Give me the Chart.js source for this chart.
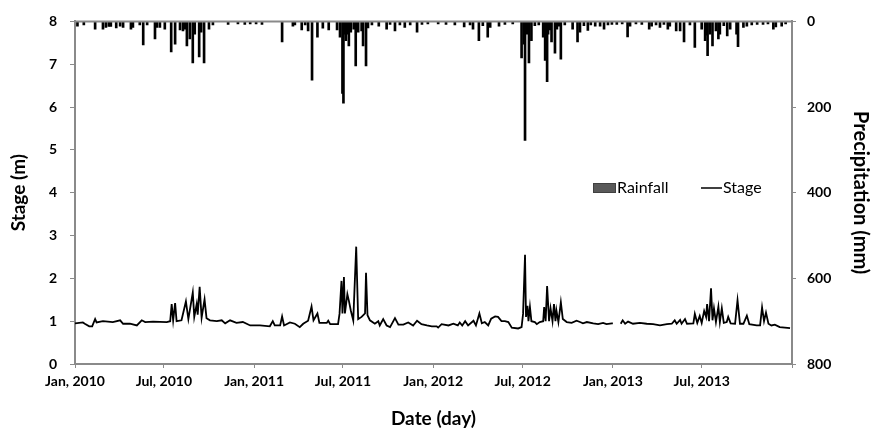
<!DOCTYPE html>
<html>
<head>
    <title>Stage and Rainfall 2010-2013</title>
    <script src="https://cdn.jsdelivr.net/npm/chart.js"></script>
    <style>
        html, body {
            margin: 0;
            padding: 0;
            background: #fff;
        }
        #wrap {
            width: 871px;
            height: 432px;
        }
    </style>
</head>
<body>
    <div id="wrap"><canvas id="stageChart" width="871" height="432"></canvas></div>

    <script>
        // Day numbers are counted from 1 Jan 2010
        const tickDays = [0, 181, 365, 546, 730, 912, 1096, 1277, 1461];
        const tickLabels = ['Jan, 2010', 'Jul, 2010', 'Jan, 2011', 'Jul, 2011', 'Jan, 2012', 'Jul, 2012', 'Jan, 2013', 'Jul, 2013', ''];

        // Daily rainfall (mm), only the rain days
        const rainDay = [
            5, 18, 41, 57, 63, 69, 73, 84, 92, 98, 114, 118, 132, 139, 147, 163, 167, 173, 183, 196,
            204, 214, 220, 224, 228, 234, 240, 244, 253, 257, 263, 273, 281, 312, 332, 346, 357,
            369, 381, 422, 444, 448, 462, 469, 475, 483, 494, 505, 517, 534, 540, 545, 547, 550,
            552, 554, 558, 562, 568, 572, 577, 584, 587, 593, 597, 605, 619, 635, 642, 652, 662,
            672, 683, 697, 707, 719,
            740, 756, 774, 793, 805, 811, 823, 831, 841, 846, 864, 876, 892, 910, 915, 917, 921,
            925, 930, 937, 945, 954, 958, 962, 964, 968, 971, 978, 982, 986, 990, 998, 1014, 1024,
            1029, 1037, 1045, 1051, 1060, 1070, 1078, 1086, 1094,
            1104, 1115, 1126, 1131, 1143, 1155, 1170, 1175, 1184, 1192, 1200, 1208, 1212, 1225,
            1233, 1241, 1253, 1263, 1277, 1284, 1287, 1289, 1294, 1299, 1306, 1311, 1314, 1322,
            1329, 1335, 1348, 1351, 1362, 1369, 1379, 1390, 1402, 1412, 1423, 1428, 1440, 1448
        ];
        const rainMm = [
            11, 8, 18, 18, 14, 12, 12, 15, 11, 14, 18, 14, 8, 55, 8, 41, 14, 14, 18, 71,
            53, 20, 22, 18, 57, 41, 97, 30, 83, 25, 97, 18, 8, 7, 6, 7, 6,
            6, 7, 48, 11, 8, 20, 8, 22, 137, 37, 16, 20, 20, 37, 168, 191, 30,
            45, 30, 57, 25, 18, 104, 25, 22, 57, 104, 15, 8, 11, 18, 7, 22, 8,
            14, 8, 25, 7, 6,
            6, 7, 8, 13, 8, 18, 45, 10, 37, 14, 11, 7, 6, 85, 53, 278, 30,
            97, 45, 10, 8, 37, 91, 141, 30, 20, 48, 74, 18, 11, 88, 8, 18, 48,
            25, 10, 21, 8, 11, 11, 18, 8, 7,
            7, 6, 36, 11, 6, 7, 18, 11, 8, 14, 7, 18, 11, 22,
            22, 48, 8, 61, 18, 45, 32, 80, 30, 57, 22, 41, 30, 10,
            34, 18, 30, 59, 14, 11, 8, 7, 7, 6, 18, 13, 11, 6
        ];

        // River stage (m); null = no record
        const stageDay = [
            0, 16, 20, 29, 35, 41, 44, 57, 77, 92, 98, 112, 126, 136, 143, 159, 187, 194, 197, 200,
            204, 207, 217, 226, 231, 240, 243, 248, 250, 254, 258, 264, 268, 275, 289, 299, 306, 316,
            329, 342, 357, 377, 397, 403, 407, 418, 422, 426, 438, 448, 458, 465, 475, 482, 486, 494,
            498, 513, 516, 520, 536, 539, 543, 545, 548, 550, 555, 558, 562, 567, 573, 577, 584, 591,
            593, 596, 601, 611, 618, 621, 628, 635, 642, 652, 659, 669, 679, 689, 697, 706, 717, 727,
            737, 740, 747, 761, 771, 780, 784, 789, 795, 801, 812, 817, 824, 829, 835, 842, 848, 856,
            862, 869, 876, 883, 890, 903, 910, 913, 917, 919, 922, 924, 927, 930, 937, 941, 947, 954,
            956, 959, 962, 966, 969, 973, 976, 979, 981, 985, 990, 994, 1002, 1012, 1022, 1029, 1035,
            1043, 1056, 1066, 1076, 1083, 1094, 1096, 1100, 1112, 1116, 1121, 1127, 1137, 1151, 1165,
            1178, 1192, 1206, 1216, 1222, 1226, 1233, 1236, 1243, 1247, 1260, 1263, 1268, 1273, 1277,
            1282, 1286, 1288, 1292, 1296, 1299, 1302, 1306, 1311, 1314, 1318, 1322, 1328, 1331, 1336,
            1345, 1350, 1355, 1362, 1369, 1374, 1389, 1396, 1400, 1404, 1408, 1413, 1419, 1426, 1436,
            1457
        ];
        const stageM = [
            0.95, 0.97, 0.94, 0.88, 0.88, 1.05, 0.97, 1.00, 0.98, 1.02, 0.94, 0.94, 0.90, 1.02, 0.98, 0.99, 0.98, 1.00, 1.40, 1.02,
            1.42, 1.00, 1.02, 1.46, 1.05, 1.67, 1.10, 1.40, 1.15, 1.80, 1.08, 1.51, 1.07, 1.02, 1.00, 1.02, 0.95, 1.02,
            0.96, 0.98, 0.90, 0.90, 0.88, 1.00, 0.90, 0.90, 1.11, 0.90, 0.97, 0.94, 0.86, 0.94, 1.01, 1.34, 1.02, 1.18,
            0.96, 0.96, 1.01, 0.93, 0.93, 1.17, 1.94, 1.18, 2.03, 1.18, 1.63, 1.48, 1.25, 1.02, 2.74, 1.05, 1.10, 1.18,
            2.13, 1.14, 1.02, 0.94, 1.00, 0.90, 1.05, 0.90, 0.86, 1.07, 0.92, 0.92, 0.97, 0.90, 1.01, 0.93, 0.90, 0.88,
            0.88, 0.85, 0.93, 0.90, 0.94, 0.90, 0.97, 0.90, 1.00, 0.90, 1.01, 0.90, 1.18, 0.95, 0.98, 0.90, 1.06, 1.11,
            1.10, 1.00, 1.00, 0.98, 0.85, 0.83, 0.86, 1.17, 2.55, 1.10, 1.36, 1.00, 1.33, 1.00, 0.98, 0.93, 0.98, 1.00,
            1.33, 1.00, 1.82, 1.00, 1.30, 1.00, 1.40, 1.00, 1.25, 0.98, 1.44, 1.05, 0.98, 0.96, 1.01, 0.98, 0.95,
            0.98, 0.95, 0.93, 0.96, 0.93, 0.95, 0.95, null, 0.94, 1.02, 0.94, 0.99, 0.94, 0.96, 0.94,
            0.93, 0.90, 0.93, 0.94, 1.02, 0.94, 1.03, 0.94, 1.05, 0.94, 0.95, 1.17, 0.96, 1.12, 0.96,
            1.24, 1.10, 1.40, 1.00, 1.77, 1.02, 1.30, 0.98, 1.34, 0.98, 1.30, 0.96, 0.98, 1.10, 0.95,
            0.94, 1.49, 0.94, 0.94, 1.13, 0.93, 0.90, 0.90, 1.32, 1.00, 1.20, 0.94, 0.90, 0.92, 0.86,
            0.84
        ];

        const axisGrey = '#8a8a8a';
        const tickFont = { family: 'Lato', size: 14, weight: 'bold' };
        const titleFont = { family: 'Lato', size: 19, weight: 'bold' };

        // closes the frame along the top edge
        const topBorder = {
            id: 'topBorder',
            afterDraw(chart) {
                const { ctx, chartArea } = chart;
                ctx.save();
                ctx.strokeStyle = axisGrey;
                ctx.lineWidth = 2;
                ctx.beginPath();
                ctx.moveTo(chartArea.left, chartArea.top);
                ctx.lineTo(chartArea.right, chartArea.top);
                ctx.stroke();
                ctx.restore();
            }
        };

        // legend sits inside the plot, right of centre
        const innerLegend = {
            id: 'innerLegend',
            afterDraw(chart) {
                const { ctx, chartArea } = chart;
                const x = chartArea.left + 518;
                const y = 188;
                ctx.save();
                ctx.fillStyle = '#595959';
                ctx.strokeStyle = '#404040';
                ctx.lineWidth = 1;
                ctx.fillRect(x, y - 5, 23, 10);
                ctx.strokeRect(x + 0.5, y - 4.5, 22, 9);
                ctx.font = '16px Lato';
                ctx.fillStyle = '#000';
                ctx.textBaseline = 'middle';
                ctx.fillText('Rainfall', x + 24, y);
                ctx.strokeStyle = '#000';
                ctx.lineWidth = 1.5;
                ctx.beginPath();
                ctx.moveTo(x + 108, y);
                ctx.lineTo(x + 129, y);
                ctx.stroke();
                ctx.fillText('Stage', x + 130, y);
                ctx.restore();
            }
        };

        const ctx = document.getElementById('stageChart').getContext('2d');

        const stageChart = new Chart(ctx, {
            type: 'bar',
            data: {
                datasets: [
                    {
                        type: 'line',
                        label: 'Stage',
                        data: stageDay.map((d, i) => ({ x: d, y: stageM[i] })),
                        borderColor: '#000',
                        borderWidth: 1.8,
                        pointRadius: 0,
                        tension: 0,
                        spanGaps: false,
                        xAxisID: 'x',
                        yAxisID: 'y'
                    },
                    {
                        type: 'bar',
                        label: 'Rainfall',
                        data: rainDay.map((d, i) => ({ x: d, y: rainMm[i] })),
                        backgroundColor: '#000',
                        borderWidth: 0,
                        barThickness: 2,
                        xAxisID: 'x',
                        yAxisID: 'y2'
                    }
                ]
            },
            options: {
                responsive: false,
                animation: false,
                layout: { padding: { top: 17, left: 0, right: 0, bottom: 0 } },
                plugins: {
                    legend: { display: false },
                    tooltip: { enabled: false }
                },
                scales: {
                    x: {
                        type: 'linear',
                        min: 0,
                        max: 1461,
                        offset: false,
                        afterBuildTicks: scale => {
                            scale.ticks = tickDays.map(v => ({ value: v }));
                        },
                        afterFit: scale => { scale.height = 68; },
                        ticks: {
                            autoSkip: false,
                            maxRotation: 0,
                            padding: 5,
                            color: '#000',
                            font: tickFont,
                            callback: value => tickLabels[tickDays.indexOf(value)]
                        },
                        grid: { offset: false, drawOnChartArea: false, color: axisGrey, tickLength: 4 },
                        border: { color: axisGrey, width: 2 },
                        title: {
                            display: true,
                            text: 'Date (day)',
                            color: '#000',
                            font: titleFont,
                            padding: { top: 0, bottom: 2 }
                        }
                    },
                    y: {
                        position: 'left',
                        min: 0,
                        max: 8,
                        afterFit: scale => { scale.width = 75; },
                        ticks: { stepSize: 1, padding: 13, color: '#000', font: tickFont },
                        grid: { drawOnChartArea: false, color: axisGrey, tickLength: 5 },
                        border: { color: axisGrey, width: 2 },
                        title: {
                            display: true,
                            text: 'Stage (m)',
                            color: '#000',
                            font: titleFont,
                            padding: { top: 7, bottom: 0 }
                        }
                    },
                    y2: {
                        position: 'right',
                        min: 0,
                        max: 800,
                        reverse: true,
                        afterFit: scale => { scale.width = 79; },
                        ticks: { stepSize: 200, padding: 11, color: '#000', font: tickFont },
                        grid: { drawOnChartArea: false, color: axisGrey, tickLength: 4 },
                        border: { color: axisGrey, width: 2 },
                        title: {
                            display: true,
                            text: 'Precipitation (mm)',
                            color: '#000',
                            font: { family: 'Lato', size: 20, weight: 'bold' },
                            padding: { top: -1, bottom: 0 }
                        }
                    }
                }
            },
            plugins: [topBorder, innerLegend]
        });
    </script>
</body>
</html>
